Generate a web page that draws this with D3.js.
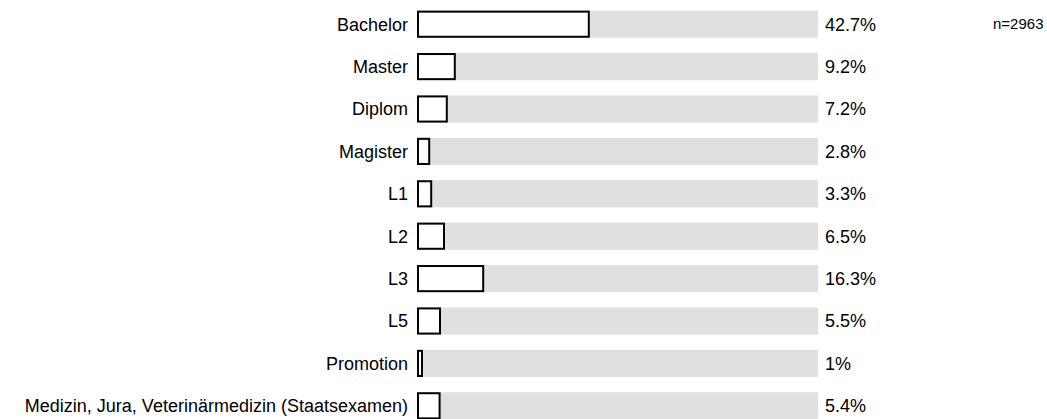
<!DOCTYPE html>
<html>
<head>
<meta charset="utf-8">
<script src="https://cdn.jsdelivr.net/npm/d3@7"></script>
<style>
  body { margin: 0; background: #fff; }
  svg { display: block; font-family: "Liberation Sans", Arial, sans-serif; }
</style>
</head>
<body>
<svg id="chart" width="1047" height="419"></svg>
<script>
// Degree categories and their shares in percent
const categories = ["Bachelor", "Master", "Diplom", "Magister", "L1", "L2", "L3", "L5", "Promotion", "Medizin, Jura, Veterinärmedizin (Staatsexamen)"];
const values = [42.7, 9.2, 7.2, 2.8, 3.3, 6.5, 16.3, 5.5, 1, 5.4];
const valueLabels = ["42.7%", "9.2%", "7.2%", "2.8%", "3.3%", "6.5%", "16.3%", "5.5%", "1%", "5.4%"];
const sampleNote = "n=2963";

const svg = d3.select("#chart");

const x = d3.scaleLinear().domain([0, 100]).range([418, 818]);
const y = d3.scaleBand().domain(categories).range([3, 427]).paddingInner(0.36).paddingOuter(0.18);

const rows = svg.selectAll("g.row")
  .data(categories)
  .join("g")
  .attr("class", "row");

// grey track spanning the full scale
rows.append("rect")
  .attr("x", x(0))
  .attr("y", d => y(d))
  .attr("width", x(100) - x(0))
  .attr("height", y.bandwidth())
  .attr("fill", "#e0e0e0");

// outlined value bar
rows.append("rect")
  .attr("x", x(0))
  .attr("y", d => y(d) + 1)
  .attr("width", (d, i) => x(values[i]) - x(0))
  .attr("height", y.bandwidth() - 2)
  .attr("fill", "#fff")
  .attr("stroke", "#000")
  .attr("stroke-width", 2);

// category labels
rows.append("text")
  .attr("x", x(0) - 10)
  .attr("y", d => y(d) + y.bandwidth() / 2)
  .attr("dy", "0.35em")
  .attr("text-anchor", "end")
  .attr("font-size", 18)
  .attr("fill", "#000")
  .text(d => d);

// value labels
rows.append("text")
  .attr("x", x(100) + 7)
  .attr("y", d => y(d) + y.bandwidth() / 2)
  .attr("dy", "0.35em")
  .attr("font-size", 18)
  .attr("fill", "#000")
  .text((d, i) => valueLabels[i]);

svg.append("text")
  .attr("x", 993)
  .attr("y", y(categories[0]) + y.bandwidth() / 2)
  .attr("dy", "0.35em")
  .attr("font-size", 15)
  .attr("fill", "#000")
  .text(sampleNote);
</script>
</body>
</html>
